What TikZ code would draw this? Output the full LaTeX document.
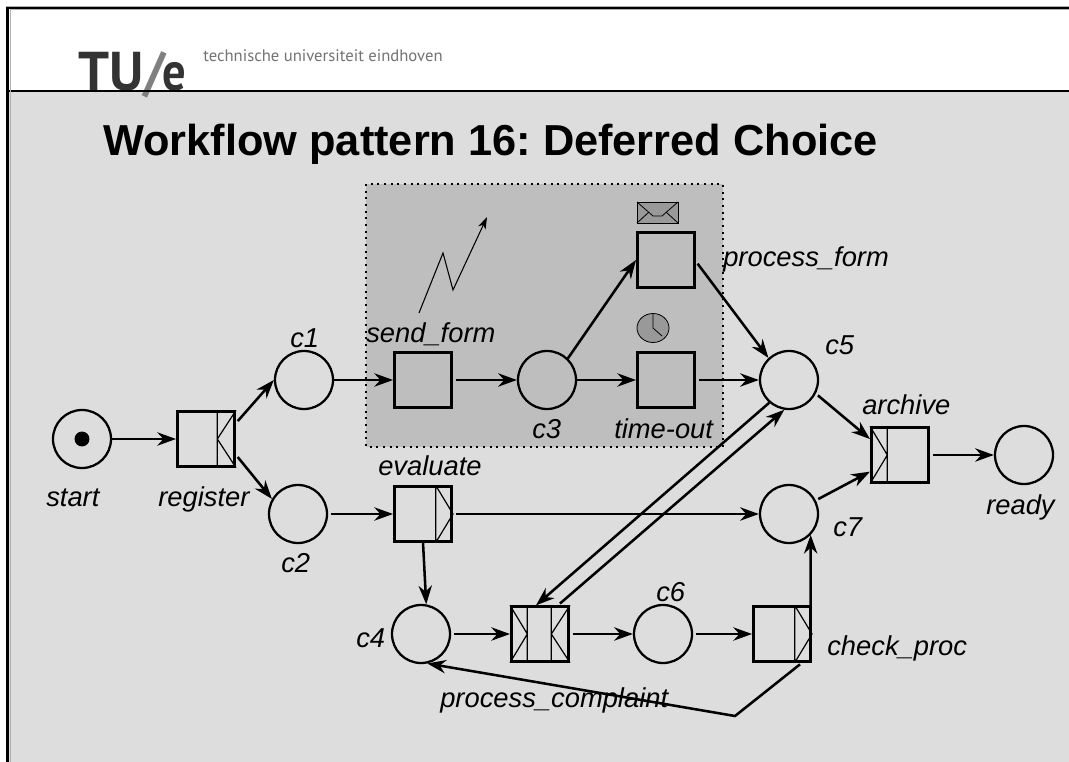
\documentclass[tikz,border=0pt]{standalone}
\usepackage{fontspec}
\setmainfont{Liberation Sans}
\newfontfamily\logofont{PT Sans}
\newfontfamily\subfont{PT Sans}
\usetikzlibrary{arrows.meta}
\definecolor{panel}{HTML}{DDDDDD}
\definecolor{region}{HTML}{BEBEBE}
\tikzset{arc/.style = {line width = 1.9pt, -{Stealth[length = 14pt, width = 10pt, inset = 4.5pt]}}}
\tikzset{tarc/.style = {arc, shorten <= 2pt}}
\tikzset{place/.style = {draw, circle, line width = 1.7pt, inner sep = 0, minimum size = 43.5pt}}
\tikzset{trans/.style = {draw, rectangle, line width = 2pt, inner sep = 0, minimum width = 43pt, minimum height = 41pt}}
\tikzset{gate/.style = {line width = 0.9pt}}
\tikzset{lbl/.style = {anchor = base west, inner sep = 0, font = \fontsize{20.5pt}{24pt}\selectfont\itshape}}

\begin{document}
\begin{tikzpicture}[x = 0.75pt, y = -0.75pt]
      \useasboundingbox (0, 0) rectangle (1069, 762);

      % slide
      \fill [panel] (8, 91) rectangle (1069, 762);
      \fill [white] (8, 8) rectangle (1069, 91);
      \node (logo) at (78, 91) [anchor = base west, inner sep = 0, text = black!80,
        font = \logofont\bfseries\fontsize{41pt}{41pt}\selectfont]
        {TU\textcolor{black!50}{/}\kern-2.5pt\scalebox{0.85}[1]{e}};
      \draw [line width = 0.8pt] (8, 91) -- (1069, 91);
      \draw [gray!60, line width = 0.75pt] (10, 762) -- (10, 10) -- (1069, 10);
      \draw [gray!60, line width = 0.75pt] (5.5, 6.5) -- (1069, 6.5);
      \draw [line width = 2.2pt] (7.5, 762) -- (7.5, 8) -- (1069, 8);
      \node (uni) at (203, 62) [anchor = base west, inner sep = 0, text = black!55,
        font = \subfont\fontsize{12.5pt}{15pt}\selectfont] {technische universiteit eindhoven};
      \node (title) at (103, 156) [anchor = base west, inner sep = 0,
        font = \frenchspacing\bfseries\fontsize{32.5pt}{36pt}\selectfont] {Workflow pattern 16: Deferred Choice};

      % environment
      \draw [fill = region, line width = 1.5pt, dash pattern = on 1.5pt off 3.5pt] (366, 184) rectangle (723, 447);

      % places
      \node (start) at (82, 439) [place] {};
      \node (c1) at (304, 380) [place] {};
      \node (c2) at (298, 514) [place] {};
      \node (c3) at (547, 380) [place] {};
      \node (c4) at (421, 634) [place] {};
      \node (c5) at (789, 380) [place] {};
      \node (c6) at (663, 634) [place] {};
      \node (c7) at (789, 514) [place] {};
      \node (ready) at (1024, 455) [place] {};
      \fill (start) circle [radius = 5.6pt];

      % transitions
      \node (register) at (206, 439) [trans] {};
      \node (send) at (423, 380) [trans] {};
      \node (evaluate) at (423, 514) [trans] {};
      \node (process) at (666, 260) [trans] {};
      \node (timeout) at (666, 380) [trans] {};
      \node (complaint) at (540, 634) [trans] {};
      \node (check) at (782, 634) [trans] {};
      \node (archive) at (900, 455) [trans] {};

      % split and join marks
      \foreach \n in {register, complaint}
        \draw [gate] ([xshift = -14pt]\n.north east) -- ([xshift = -14pt]\n.south east)
          (\n.north east) -- ([xshift = -14pt]\n.east) -- (\n.south east);
      \foreach \n in {evaluate, check}
        \draw [gate] ([xshift = -13pt]\n.north east) -- ([xshift = -13pt]\n.south east)
          ([xshift = -13pt]\n.north east) -- (\n.east) -- ([xshift = -13pt]\n.south east);
      \foreach \n in {archive, complaint}
        \draw [gate] ([xshift = 13pt]\n.north west) -- ([xshift = 13pt]\n.south west)
          (\n.north west) -- ([xshift = 13pt]\n.west) -- (\n.south west);

      % flow
      \draw [arc] (start) -- (register);
      \draw [tarc] (register.28) -- (c1.180);
      \draw [tarc] (register.-28) -- (c2.150);
      \draw [arc] (c1) -- (send);
      \draw [tarc] (c2) -- (evaluate);
      \draw [tarc] (send) -- (c3);
      \draw [arc] (c3) -- (timeout);
      \draw [arc] (c3.46) -- (process.west);
      \draw [tarc] (process.-3) -- (c5.133);
      \draw [tarc] (timeout) -- (c5);
      \draw [tarc] (c5.-27) -- (archive.152);
      \draw [tarc] (c7.27) -- (archive.209);
      \draw [tarc] (archive) -- (ready);
      \draw [tarc] (evaluate) -- (c7);
      \draw [arc] (evaluate.south) -- (c4.80);
      \draw [tarc] (c4) -- (complaint);
      \draw [tarc] (complaint) -- (c6);
      \draw [tarc] (c6) -- (check);
      \draw [tarc] (complaint.58) -- (c5.261);
      \draw [arc] (c5.229) -- (complaint.98);
      \draw [arc] (check.45) -- (c7.-44);
      \coordinate (bend) at (735, 716);
      \draw [tarc] (check.-55) -- (bend) -- (c4.-78);

      % external trigger
      \coordinate (z0) at (419, 313);
      \coordinate (z1) at (443, 253);
      \coordinate (z2) at (453, 290);
      \coordinate (z3) at (487, 217);
      \draw [line width = 0.8pt, -{Stealth[length = 9pt, width = 6pt, inset = 2.5pt]}]
        (z0) -- (z1) -- (z2) -- (z3);

      % envelope
      \draw [fill = gray!80, line width = 0.6pt] (637, 202) rectangle (678, 223);
      \draw [line width = 0.6pt] (637, 202) -- (653, 216) -- (662, 216) -- (678, 202)
        (637, 223) -- (649, 212) (678, 223) -- (666, 212);

      % clock
      \draw [fill = gray!80, line width = 0.6pt] (653, 328) circle [x radius = 16, y radius = 14.5];
      \draw [line width = 0.6pt] (653, 314) -- (653, 328) -- (662, 336);

      % labels
      \node at (46, 506) [lbl] {start};
      \node at (158, 506) [lbl] {register};
      \node at (290, 348) [lbl] {c1};
      \node at (281, 572) [lbl] {c2};
      \node at (366, 343) [lbl] {send\_form};
      \node at (532, 438) [lbl] {c3};
      \node at (614, 438) [lbl] {time-out};
      \node at (723, 267) [lbl] {process\_form};
      \node at (825, 354) [lbl] {c5};
      \node at (833, 536) [lbl] {c7};
      \node at (862, 414) [lbl] {archive};
      \node at (986, 514) [lbl] {ready};
      \node at (378, 475) [lbl] {evaluate};
      \node at (356, 647) [lbl] {c4};
      \node at (656, 601) [lbl] {c6};
      \node at (440, 707) [lbl] {process\_complaint};
      \node at (827, 655) [lbl] {check\_proc};
\end{tikzpicture}
\end{document}
